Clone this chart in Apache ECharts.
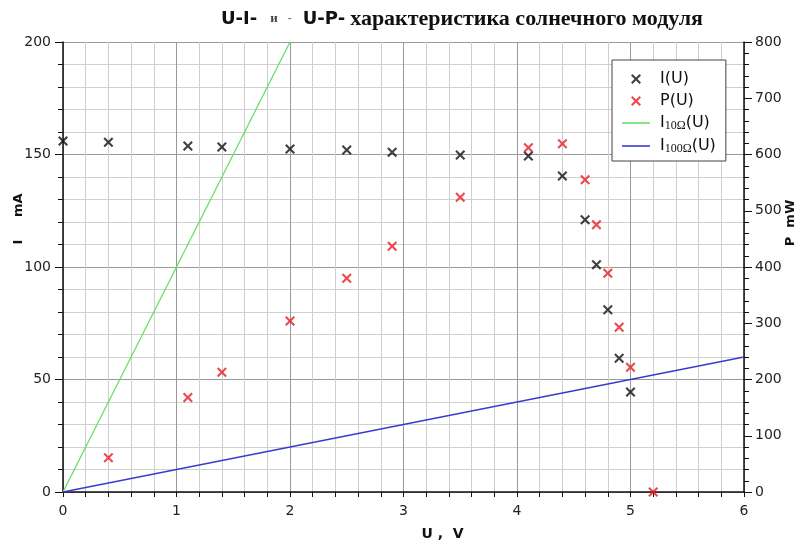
<!DOCTYPE html>
<html><head><meta charset="utf-8">
<script src="https://cdn.jsdelivr.net/npm/echarts@6/dist/echarts.min.js"></script>
<style>html,body{margin:0;padding:0;background:#fff}#c{width:799px;height:540px}</style>
</head><body><div id="c"></div>
<script>
// Data
const uValues   = [0, 0.4, 1.1, 1.4, 2.0, 2.5, 2.9, 3.5, 4.1, 4.4, 4.6, 4.7, 4.8, 4.9, 5.0];
const iValues   = [156, 155.5, 153.8, 153.3, 152.4, 152, 151, 149.8, 149.3, 140.4, 121, 101, 81, 59.5, 44.4];
const pU        = [0.4, 1.1, 1.4, 2.0, 2.5, 2.9, 3.5, 4.1, 4.4, 4.6, 4.7, 4.8, 4.9, 5.0, 5.2];
const pValues   = [61, 168, 213, 304, 380, 437, 524, 612, 619, 555, 475, 389, 293, 222, 0];
const load10U   = [0, 2];
const load10I   = [0, 200];
const load100U  = [0, 6];
const load100I  = [0, 60];
const xTicks = [0, 1, 2, 3, 4, 5, 6];

const X = 'path://M0,1.5L1.5,0L5,3.5L8.5,0L10,1.5L6.5,5L10,8.5L8.5,10L5,6.5L1.5,10L0,8.5L3.5,5Z';
const LINE_ICON = 'path://M0,0H28V1.6H0Z';
const zip = (a, b) => a.map((v, i) => [v, b[i]]);

const chart = echarts.init(document.getElementById('c'));
const sans = 'DejaVu Sans';
const serif = 'Liberation Serif';
chart.setOption({
  animation: false,
  backgroundColor: '#fff',
  title: {
    left: 216, top: 3,
    text: '{a|U-I-}{b|и}{e|-}{p|U-P-} {d|характеристика солнечного модуля}',
    textStyle: {
      rich: {
        a: {fontFamily: sans, fontWeight: 'bold', fontSize: 18, color: '#111'},
        p: {fontFamily: sans, fontWeight: 'bold', fontSize: 18, color: '#111', padding: [0, 0, 0, 11]},
        b: {fontFamily: serif, fontWeight: 'bold', fontSize: 13, color: '#444', padding: [0, 0, 0, 13]},
        e: {fontFamily: serif, fontWeight: 'bold', fontSize: 12, color: '#777', padding: [0, 0, 0, 10]},
        d: {fontFamily: serif, fontWeight: 'bold', fontSize: 22, color: '#111'}
      }
    }
  },
  legend: {
    left: 612, top: 60, orient: 'vertical',
    backgroundColor: '#fff', borderColor: '#444', borderWidth: 1,
    padding: [11, 10, 6, 10], itemGap: 6, itemWidth: 28, itemHeight: 10,
    data: [
      {name: 'I(U)', icon: X},
      {name: 'P(U)', icon: X},
      {name: 'I10Ω(U)', icon: LINE_ICON},
      {name: 'I100Ω(U)', icon: LINE_ICON}
    ],
    formatter: function (n) {
      if (n === 'I10Ω(U)') return '{t|I}{s|10Ω}{u|(U)}';
      if (n === 'I100Ω(U)') return '{t|I}{s|100Ω}{u|(U)}';
      return '{t|' + n + '}';
    },
    textStyle: {
      rich: {
        t: {fontFamily: sans, fontSize: 16, color: '#111', padding: [0, 0, 0, 5], lineHeight: 19},
        u: {fontFamily: sans, fontSize: 16, color: '#111', lineHeight: 19},
        s: {fontFamily: serif, fontSize: 12, color: '#111', padding: [6, 0, 0, 0]}
      }
    }
  },
  grid: {left: 63, right: 55, top: 42, bottom: 48, containLabel: false, outerBoundsMode: 'none'},
  xAxis: {
    type: 'value', min: 0, max: 6, interval: 1,
    name: 'U ,  V', nameLocation: 'middle', nameGap: 35, nameMoveOverlap: false,
    nameTextStyle: {fontFamily: sans, fontWeight: 'bold', fontSize: 14, color: '#111', padding: [0, 0, 0, 78]},
    axisLine: {show: true, onZero: false, lineStyle: {color: '#111', width: 1.5}},
    axisTick: {show: true, length: 5, lineStyle: {color: '#111'}},
    minorTick: {show: true, splitNumber: 5, length: 5, lineStyle: {color: '#111'}},
    axisLabel: {fontFamily: sans, fontSize: 14, color: '#222', margin: 12,
      formatter: v => xTicks.includes(v) ? String(v) : ''},
    splitLine: {show: true, lineStyle: {color: '#999', width: 1}},
    minorSplitLine: {show: true, lineStyle: {color: '#cfcfcf', width: 1}}
  },
  yAxis: [{
    type: 'value', min: 0, max: 200, interval: 50, position: 'left',
    name: 'I     mA', nameLocation: 'middle', nameGap: 38, nameRotate: 90, nameMoveOverlap: false,
    nameTextStyle: {fontFamily: sans, fontWeight: 'bold', fontSize: 13, color: '#111', padding: [0, 0, 0, 96]},
    axisLine: {show: true, lineStyle: {color: '#111', width: 1.5}},
    axisTick: {show: true, length: 8, lineStyle: {color: '#111'}},
    minorTick: {show: true, splitNumber: 5, length: 5, lineStyle: {color: '#111'}},
    axisLabel: {fontFamily: sans, fontSize: 14, color: '#222', margin: 12},
    splitLine: {show: true, lineStyle: {color: '#999', width: 1}},
    minorSplitLine: {show: true, lineStyle: {color: '#cfcfcf', width: 1}}
  }, {
    type: 'value', min: 0, max: 800, interval: 100, position: 'right',
    name: 'P  mW', nameLocation: 'middle', nameGap: 40, nameRotate: 90, nameMoveOverlap: false,
    nameTextStyle: {fontFamily: sans, fontWeight: 'bold', fontSize: 13, color: '#111', padding: [0, 0, 0, 88]},
    axisLine: {show: true, lineStyle: {color: '#111', width: 1.5}},
    axisTick: {show: true, length: 8, lineStyle: {color: '#111'}},
    minorTick: {show: true, splitNumber: 5, length: 5, lineStyle: {color: '#111'}},
    axisLabel: {fontFamily: sans, fontSize: 14, color: '#222', margin: 11},
    splitLine: {show: false}
  }],
  series: [
    {name: 'I10Ω(U)', type: 'line', data: zip(load10U, load10I), symbol: 'none', showSymbol: false,
      lineStyle: {color: '#66e066', width: 1.3}, itemStyle: {color: '#66e066'}, z: 3},
    {name: 'I100Ω(U)', type: 'line', data: zip(load100U, load100I), symbol: 'none', showSymbol: false,
      lineStyle: {color: '#3a3ad0', width: 1.3}, itemStyle: {color: '#3a3ad0'}, z: 3},
    {name: 'I(U)', type: 'scatter', data: zip(uValues, iValues), symbol: X, symbolSize: 10,
      itemStyle: {color: '#111'}, z: 4},
    {name: 'P(U)', type: 'scatter', yAxisIndex: 1, data: zip(pU, pValues), symbol: X, symbolSize: 10,
      itemStyle: {color: '#e81c24'}, z: 5}
  ]
});
</script></body></html>
